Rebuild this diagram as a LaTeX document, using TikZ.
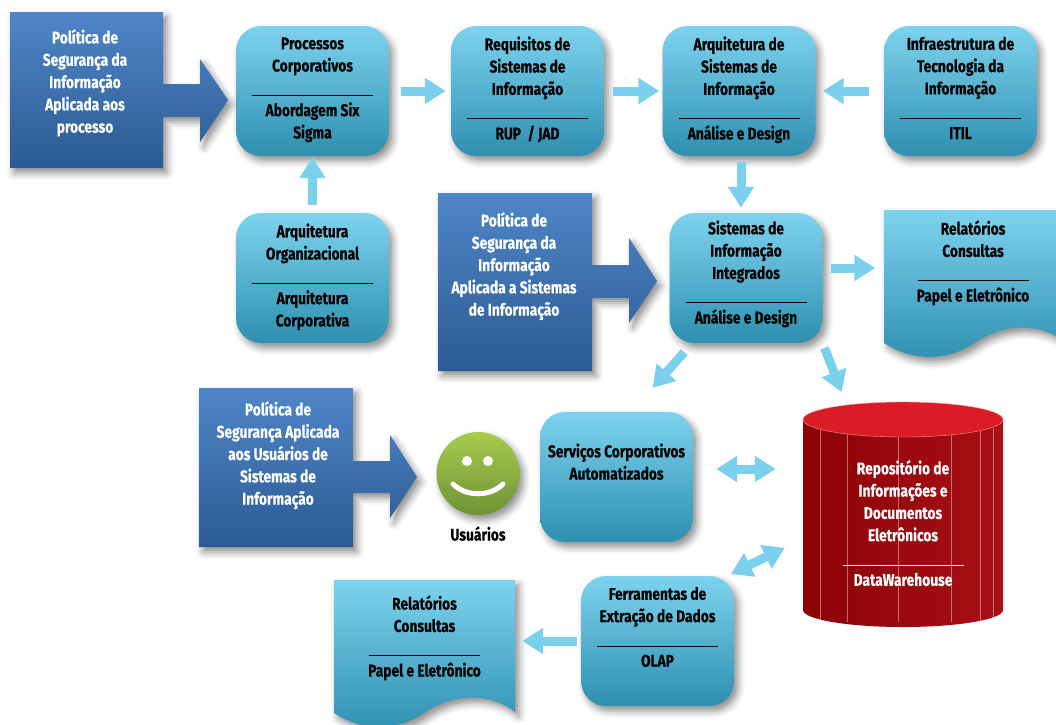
\documentclass[tikz,border=0pt]{standalone}
\usepackage{fontspec}
\setmainfont[FakeStretch=0.81,BoldFeatures={FakeBold=0.35}]{Fira Sans}
\usetikzlibrary{arrows.meta,shadows.blur}
\definecolor{boxtop}{HTML}{7DD3EE}
\definecolor{boxbottom}{HTML}{2E8FB0}
\definecolor{poltop}{HTML}{4F86C8}
\definecolor{polbottom}{HTML}{2C5A93}
\definecolor{flowblue}{HTML}{7BD0EE}
\definecolor{facetop}{HTML}{A8CC4E}
\definecolor{facebottom}{HTML}{6E9234}
\definecolor{dwtop}{HTML}{D91C26}
\definecolor{dwleft}{HTML}{8B0306}
\definecolor{dwright}{HTML}{A81016}
\newcommand{\sepline}[1][121pt]{\rule[-2pt]{#1}{0.8pt}}
\newcommand{\nodestrut}{\rule[-6.1pt]{0pt}{22.3pt}}
\newcommand{\reportpath}{(0,0) -- (181,0) -- (181,132) .. controls (150,108) and (110,118) .. (90,133) .. controls (65,150) and (30,153) .. (0,133) -- cycle}
\tikzset{
  softshadow/.style={blur shadow={shadow xshift=4pt,shadow yshift=-5pt,shadow blur radius=7pt,shadow opacity=45}},
  txt/.style={font=\bfseries\fontsize{17}{22.3}\selectfont,align=center,inner sep=0pt,execute at begin node=\nodestrut,execute at end node=\nodestrut},
  bluebox/.style={txt,rectangle,rounded corners=25pt,minimum width=153pt,minimum height=130pt,top color=boxtop,bottom color=boxbottom,softshadow},
  report/.style={top color=boxtop,bottom color=boxbottom,softshadow},
  policy/.style={top color=poltop,bottom color=polbottom,softshadow},
  poltext/.style={txt,text=white},
  flow/.style={line width=9pt,draw=flowblue,-{Triangle[length=21pt,width=25pt]}},
  bothflow/.style={line width=9pt,draw=flowblue,{Triangle[length=21pt,width=25pt]}-{Triangle[length=21pt,width=25pt]}},
  dwline/.style={white,opacity=.4,line width=.6pt}
}
\begin{document}
\begin{tikzpicture}[x=1pt,y=-1pt]
\clip (0,0) rectangle (1056,724);
% politicas
\path[policy] (10,12) -- (163,12) -- (163,84) -- (200,84) -- (200,59) -- (228,100) -- (200,142) -- (200,117) -- (163,117) -- (163,168) -- (10,168) -- cycle;
\path[policy] (438,193) -- (592,193) -- (592,265) -- (629,265) -- (629,238) -- (657,281) -- (629,323) -- (629,298) -- (592,298) -- (592,371) -- (438,371) -- cycle;
\path[policy] (199,388) -- (353,388) -- (353,461) -- (390,461) -- (390,435) -- (417,477) -- (390,518) -- (390,493) -- (353,493) -- (353,547) -- (199,547) -- cycle;
\node[poltext] (polA) at (85,84) {Política de\\Segurança da\\Informação\\Aplicada aos\\processo};
\node[poltext] (polB) at (514,267) {Política de\\Segurança da\\Informação\\Aplicada a Sistemas\\de Informação};
\node[poltext] (polC) at (278,456) {Política de\\Segurança Aplicada\\aos Usuários de\\Sistemas de\\Informação};
% caixas
\node[bluebox] (processos) at (312.5,91) {Processos\\Corporativos\\\sepline\\Abordagem Six\\Sigma};
\node[bluebox] (requisitos) at (527.5,91) {Requisitos de\\Sistemas de\\Informação\\\sepline\\RUP\ \ / JAD};
\node[bluebox] (arquitetura) at (739,91) {Arquitetura de\\Sistemas de\\Informação\\\sepline\\Análise e Design};
\node[bluebox] (infra) at (960.5,91) {Infraestrutura de\\Tecnologia da\\Informação\\\sepline\\ITIL};
\node[bluebox] (organizacional) at (312.5,278) {Arquitetura\\Organizacional\\\sepline\\Arquitetura\\Corporativa};
\node[bluebox] (sistemas) at (746,278) {Sistemas de\\Informação\\Integrados\\\sepline\\Análise e Design\\[-16.4pt]~};
\node[bluebox] (servicos) at (616.5,477) {Serviços Corporativos\\Automatizados\\[2.5pt]~};
\node[bluebox] (ferramentas) at (657.5,641) {Ferramentas de\\Extração de Dados\\\sepline\\OLAP\\~};
% relatorios
\path[report,shift={(884,210)}] \reportpath;
\path[report,shift={(334,580)}] \reportpath;
\node[txt,minimum width=181pt] (relatorioA) at (973,264) {Relatórios\\Consultas\\\sepline[111pt]\\Papel e Eletrônico};
\node[txt,minimum width=181pt] (relatorioB) at (424.5,639) {Relatórios\\Consultas\\\sepline[111pt]\\Papel e Eletrônico};
% repositorio
\path[left color=dwleft,right color=dwright] (803,419) -- (803,610) arc[start angle=180,end angle=360,x radius=100pt,y radius=17pt] -- (1003,419) -- cycle;
\foreach \xpos in {820,847,898,951,980,993}
  \draw[dwline] (\xpos,428) -- (\xpos,622);
\path[fill=dwtop,draw=white!60!red,line width=.4pt] (903,419.5) ellipse[x radius=100pt,y radius=17.5pt];
\node[txt,text=white,minimum width=200pt,minimum height=245pt] (repositorio) at (903,526) {Repositório de\\Informações e\\Documentos\\Eletrônicos\\\sepline\\DataWarehouse};
% usuarios
\node[circle,minimum size=83pt,top color=facetop,bottom color=facebottom,softshadow] (usuario) at (478,473.5) {};
\fill[white] (467,461) circle[radius=5pt] (488,461) circle[radius=5pt];
\draw[white,line width=5pt,line cap=round] (453,484) .. controls (466,497) and (490,497) .. (503,484);
\node[txt] (usuariolabel) at (478,535.5) {Usuários};
% setas
\draw[flow,shorten <=12pt,shorten >=5pt] (processos.east) -- (requisitos.west);
\draw[flow,shorten <=9pt,shorten >=3pt] (requisitos.east) -- (arquitetura.west);
\draw[flow,shorten <=15pt,shorten >=7pt] (infra.west) -- (arquitetura.east);
\draw[flow,shorten <=6pt,shorten >=5pt] ([xshift=2pt]arquitetura.south) -- ([xshift=-5pt]sistemas.north);
\draw[flow,shorten <=8pt,shorten >=1pt] (organizacional.north) -- (processos.south);
\draw[flow,shorten <=8pt,shorten >=7pt] ([yshift=10pt]sistemas.east) -- ([yshift=-4pt]relatorioA.west);
\draw[flow,shorten <=12pt,shorten >=32pt] ([xshift=23pt]sistemas.south west) -- ([xshift=-62pt]servicos.north east);
\draw[flow,shorten <=5pt,shorten >=12pt] (sistemas.south east) -- ([xshift=-57pt]repositorio.north);
\draw[bothflow,shorten <=23pt,shorten >=27pt] ([yshift=8pt]servicos.east) -- ([yshift=57pt]repositorio.west);
\draw[bothflow,shorten <=20pt,shorten >=4pt] ([yshift=-13pt]repositorio.west) -- ([xshift=-7pt]ferramentas.north east);
\draw[flow,shorten <=4pt,shorten >=7pt] (ferramentas.west) -- ([yshift=-2pt]relatorioB.east);
\end{tikzpicture}
\end{document}
